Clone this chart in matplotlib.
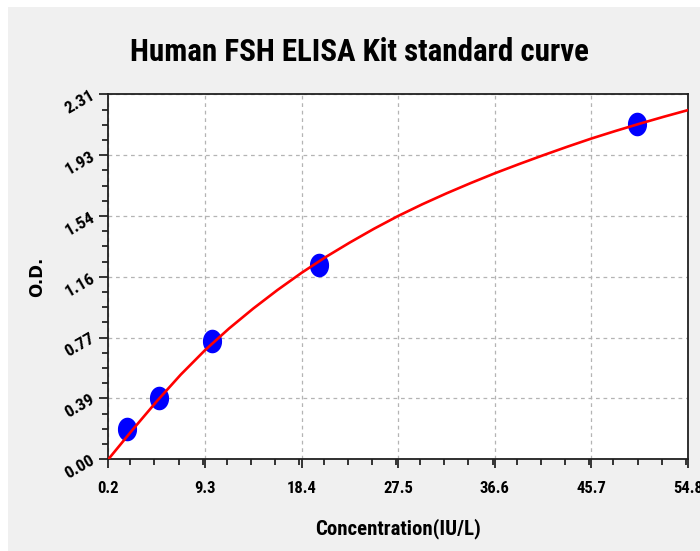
import numpy as np
import matplotlib.pyplot as plt
from matplotlib import font_manager
from matplotlib.patches import Rectangle
from matplotlib.path import Path
from matplotlib.ticker import MultipleLocator, FixedLocator

# Standard points (concentration IU/L, O.D.)
conc = [2.0, 5.0, 10.0, 20.0, 50.0]
od = [0.19, 0.39, 0.75, 1.23, 2.125]

# Fitted curve
curve_x = [0.2, 2.475, 4.75, 7.025, 9.3, 11.575, 13.85, 16.125, 18.4, 20.675,
           22.95, 25.225, 27.5, 29.775, 32.05, 34.325, 36.6, 38.875, 41.15,
           43.425, 45.7, 47.975, 50.25, 52.525, 54.8]
curve_y = [0.000, 0.186, 0.366, 0.536, 0.690, 0.828, 0.954, 1.071, 1.180, 1.280,
           1.372, 1.459, 1.540, 1.614, 1.683, 1.748, 1.810, 1.868, 1.924,
           1.978, 2.030, 2.078, 2.124, 2.168, 2.210]

xticks = [0.2, 9.3, 18.4, 27.5, 36.6, 45.7, 54.8]
yticks = [0.00, 0.385, 0.77, 1.155, 1.54, 1.925, 2.31]
ylabels = ['0.00', '0.39', '0.77', '1.16', '1.54', '1.93', '2.31']

# look for a narrow bold face, otherwise use Liberation Sans
names = {f.name for f in font_manager.fontManager.ttflist}
narrow = None
for cand in ['Liberation Sans Narrow', 'Arial Narrow', 'Roboto Condensed',
             'Open Sans Condensed', 'DejaVu Sans Condensed']:
    if cand in names:
        narrow = cand
        break
condensed = [f for f in font_manager.fontManager.ttflist
             if f.name == 'DejaVu Sans' and 'condensed' in str(f.stretch)]
if narrow:
    FONT = dict(family=[narrow, 'DejaVu Sans'])
    k = 1.0
elif condensed:
    FONT = dict(family=['DejaVu Sans'], stretch='condensed')
    k = 0.95
else:
    FONT = dict(family=['Liberation Sans', 'DejaVu Sans'])
    k = 0.85

fig = plt.figure(figsize=(7, 5.51), dpi=100)
fig.patch.set_facecolor('white')
fig.patches.append(Rectangle((8 / 700, 0), 1, 1 - 7 / 551, transform=fig.transFigure,
                             facecolor='#f0f0f0', edgecolor='none', zorder=-10))

ax = fig.add_axes([108.3 / 700, 1 - 459.3 / 551, (688 - 108.3) / 700, (459.3 - 94.3) / 551])
ax.set_facecolor('white')

# ellipse marker, a bit taller than wide
t = np.linspace(0, 2 * np.pi, 40)
ell = Path(np.column_stack([0.8 * np.cos(t), np.sin(t)]))

ax.plot(curve_x, curve_y, color='#ff0000', linewidth=1.9, zorder=3,
        solid_capstyle='round', solid_joinstyle='round')
ax.plot(conc, od, linestyle='none', marker=ell, markersize=16, color='#0000ff',
        markeredgecolor='#0000ff', zorder=2)

ax.set_xlim(0.2, 54.8)
ax.set_ylim(0, 2.31)
ax.xaxis.set_major_locator(FixedLocator(xticks))
ax.xaxis.set_minor_locator(MultipleLocator(2.275))
ax.yaxis.set_major_locator(FixedLocator(yticks))
ax.yaxis.set_minor_locator(MultipleLocator(0.09625))
ax.set_xticklabels([f'{v:.1f}' for v in xticks], fontweight='bold', fontsize=12 * k, **FONT)
ax.set_yticklabels(ylabels, fontweight='bold', fontsize=12.5 * k,
                   rotation=30, ha='right', va='center', rotation_mode='anchor', **FONT)

ax.tick_params(which='major', direction='out', length=6.5, width=1.1)
ax.tick_params(which='minor', direction='out', length=4.5, width=1.1)
ax.tick_params(axis='x', which='major', pad=9)
ax.tick_params(axis='y', which='major', pad=4)

ax.grid(True, which='major', color='#b4b4b4', linestyle=(0, (3, 3)), linewidth=0.9)
for s in ax.spines.values():
    s.set_linewidth(1.3)
    s.set_color('#202020')

ax.set_xlabel('Concentration(IU/L)', fontweight='bold', fontsize=15 * k, labelpad=16, **FONT)
ax.set_ylabel('O.D.', fontweight='bold', fontsize=12, labelpad=12)

fig.text(0.514, 1 - 52 / 551, 'Human FSH ELISA Kit standard curve',
         fontweight='bold', fontsize=22.3 * k * (0.85 if not narrow else 1.0),
         ha='center', va='center', **FONT)

fig.savefig('out.png', dpi=100, facecolor=fig.get_facecolor())
